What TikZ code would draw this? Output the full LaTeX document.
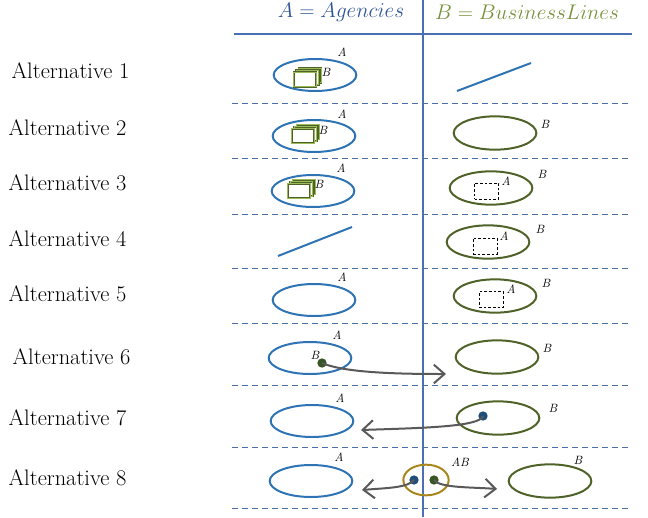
\documentclass[tikz,border=0pt]{standalone}
\usetikzlibrary{shapes.geometric,arrows.meta}
\definecolor{ablue}{HTML}{2E74B5}
\definecolor{bgreen}{HTML}{4F6228}
\definecolor{hblue}{HTML}{2F5496}
\definecolor{hgreen}{HTML}{76923C}
\definecolor{linec}{HTML}{4A6FB5}
\definecolor{dashc}{HTML}{4A6FA5}
\definecolor{arrc}{HTML}{595959}
\definecolor{goldc}{HTML}{A8861E}
\definecolor{hatch}{HTML}{9BBB59}
\definecolor{dotblue}{HTML}{1F4E79}
\definecolor{dotgreen}{HTML}{375623}
\tikzset{
  ellA/.style={ellipse, draw=ablue, line width=1.5pt, inner sep=0pt, minimum width=62pt, minimum height=24pt},
  ellB/.style={ellipse, draw=bgreen, line width=1.5pt, inner sep=0pt, minimum width=62pt, minimum height=25pt},
  altlbl/.style={anchor=west, font=\fontsize{16.8}{19}\selectfont},
  lbl/.style={font=\fontsize{9}{10}\selectfont\itshape, inner sep=0pt},
  sep/.style={draw=dashc, line width=0.75pt, dash pattern=on 4.5pt off 3pt},
  stackr/.style={draw=bgreen, line width=0.4pt, double=hatch, double distance=0.8pt, fill=white, minimum width=17pt, minimum height=11pt, inner sep=0pt},
  dashr/.style={draw=black, line width=0.5pt, dash pattern=on 2pt off 1.5pt, minimum width=18pt, minimum height=12pt, inner sep=0pt},
  dotnode/.style={circle, inner sep=0pt, minimum size=7pt},
  arr/.style={draw=arrc, line width=1.5pt, -{Straight Barb[length=8pt,width=14pt,line width=1.5pt]}},
  bline/.style={draw=ablue, line width=1.5pt},
  hdr/.style={font=\LARGE, scale=0.92},
}
\begin{document}
\begin{tikzpicture}[x=0.75pt,y=-0.75pt]
\useasboundingbox (0,0) rectangle (648,517);
% header
\node[hdr, text=hblue] (hA) at (341,12) {$A = Agencies$};
\node[hdr, text=hgreen] (hB) at (527,12) {$B = BusinessLines$};
\coordinate (hl1) at (234,34); \coordinate (hl2) at (632,34);
\draw[draw=linec, line width=0.8pt] (hl1) -- (hl2);
\coordinate (v1) at (423,0); \coordinate (v2) at (423,517);
\draw[draw=linec, line width=0.8pt] (v1) -- (v2);
% separators
\foreach \y [count=\i] in {103,158,214,268,323,385,447,508}{
  \coordinate (sL\i) at (232,\y); \coordinate (sR\i) at (632,\y);
  \draw[sep] (sL\i) -- (sR\i);
}
% left labels
\node[altlbl] (l1) at (7,71) {Alternative 1};
\node[altlbl] (l2) at (4,128) {Alternative 2};
\node[altlbl] (l3) at (4,183) {Alternative 3};
\node[altlbl] (l4) at (4,239) {Alternative 4};
\node[altlbl] (l5) at (4,294) {Alternative 5};
\node[altlbl] (l6) at (8,357) {Alternative 6};
\node[altlbl] (l7) at (4,418) {Alternative 7};
\node[altlbl] (l8) at (4,478) {Alternative 8};

% Row 1
\node[ellA] (a1) at (315,75) {};
\node[lbl] (a1l) at (342,52) {A};
\node[stackr] (s1c) at (310,75.5) {};
\node[stackr] (s1b) at (307.5,77.5) {};
\node[stackr] (s1a) at (305,79.5) {};
\node[lbl] (b1l) at (326,72) {B};
\coordinate (r1a) at (457,91); \coordinate (r1b) at (531,63);
\draw[bline] (r1a) -- (r1b);

% Row 2
\node[ellA] (a2) at (314,136) {};
\node[lbl] (a2l) at (342,114) {A};
\node[stackr] (s2c) at (308,132) {};
\node[stackr] (s2b) at (305.5,134) {};
\node[stackr] (s2a) at (303,136) {};
\node[lbl] (b2l) at (323,130) {B};
\node[ellB] (g2) at (495,133) {};
\node[lbl] (g2l) at (545,124) {B};

% Row 3
\node[ellA] (a3) at (313,191) {};
\node[lbl] (a3l) at (341,168) {A};
\node[stackr] (s3c) at (304,187) {};
\node[stackr] (s3b) at (301.5,189) {};
\node[stackr] (s3a) at (299,191) {};
\node[lbl] (b3l) at (319,184) {B};
\node[ellB] (g3) at (491,188) {};
\node[dashr] (d3) at (486.5,191) {};
\node[lbl] (d3l) at (506,181) {A};
\node[lbl] (g3l) at (542,174) {B};

% Row 4
\coordinate (r4a) at (278,256); \coordinate (r4b) at (352,227);
\draw[bline] (r4a) -- (r4b);
\node[ellB] (g4) at (488,242) {};
\node[dashr] (d4) at (485,246) {};
\node[lbl] (d4l) at (504,236) {A};
\node[lbl] (g4l) at (540,229) {B};

% Row 5
\node[ellA] (a5) at (314,300) {};
\node[lbl] (a5l) at (342,277) {A};
\node[ellB] (g5) at (495,296) {};
\node[dashr] (d5) at (491,299.5) {};
\node[lbl] (d5l) at (511,289) {A};
\node[lbl] (g5l) at (546,283) {B};

% Row 6
\node[ellA] (a6) at (310,358) {};
\node[lbl] (a6l) at (337,335) {A};
\node[lbl] (b6l) at (315,355) {B};
\node[dotnode, fill=dotgreen] (dot6) at (322,363) {};
\node[ellB] (g6) at (497,357) {};
\node[lbl] (g6l) at (547,348) {B};
\coordinate (t6) at (446,374);
\draw[arr] (dot6.center) .. controls (345,373) and (400,374) .. (t6);

% Row 7
\node[ellA] (a7) at (312,421) {};
\node[lbl] (a7l) at (340,398) {A};
\node[ellB] (g7) at (498,418) {};
\node[lbl] (g7l) at (553,408) {B};
\node[dotnode, fill=dotblue] (dot7) at (483,416) {};
\coordinate (t7) at (361,430);
\draw[arr] (dot7.center) .. controls (480,427) and (420,428) .. (t7);

% Row 8
\node[ellA] (a8) at (311,481) {};
\node[lbl] (a8l) at (339,457) {A};
\node[ellipse, draw=goldc, line width=1.5pt, inner sep=0pt, minimum width=34pt, minimum height=23pt] (c8) at (426,480) {};
\node[lbl] (c8l) at (460,462) {AB};
\node[dotnode, fill=dotblue] (dot8a) at (414,480) {};
\node[dotnode, fill=dotgreen] (dot8b) at (434,480) {};
\node[ellB] (g8) at (550,481) {};
\node[lbl] (g8l) at (578,460) {B};
\coordinate (t8a) at (362,490);
\coordinate (t8b) at (497,489);
\draw[arr] (dot8a.center) .. controls (408,488) and (385,488) .. (t8a);
\draw[arr] (dot8b.center) .. controls (440,488) and (470,487) .. (t8b);
\end{tikzpicture}
\end{document}
